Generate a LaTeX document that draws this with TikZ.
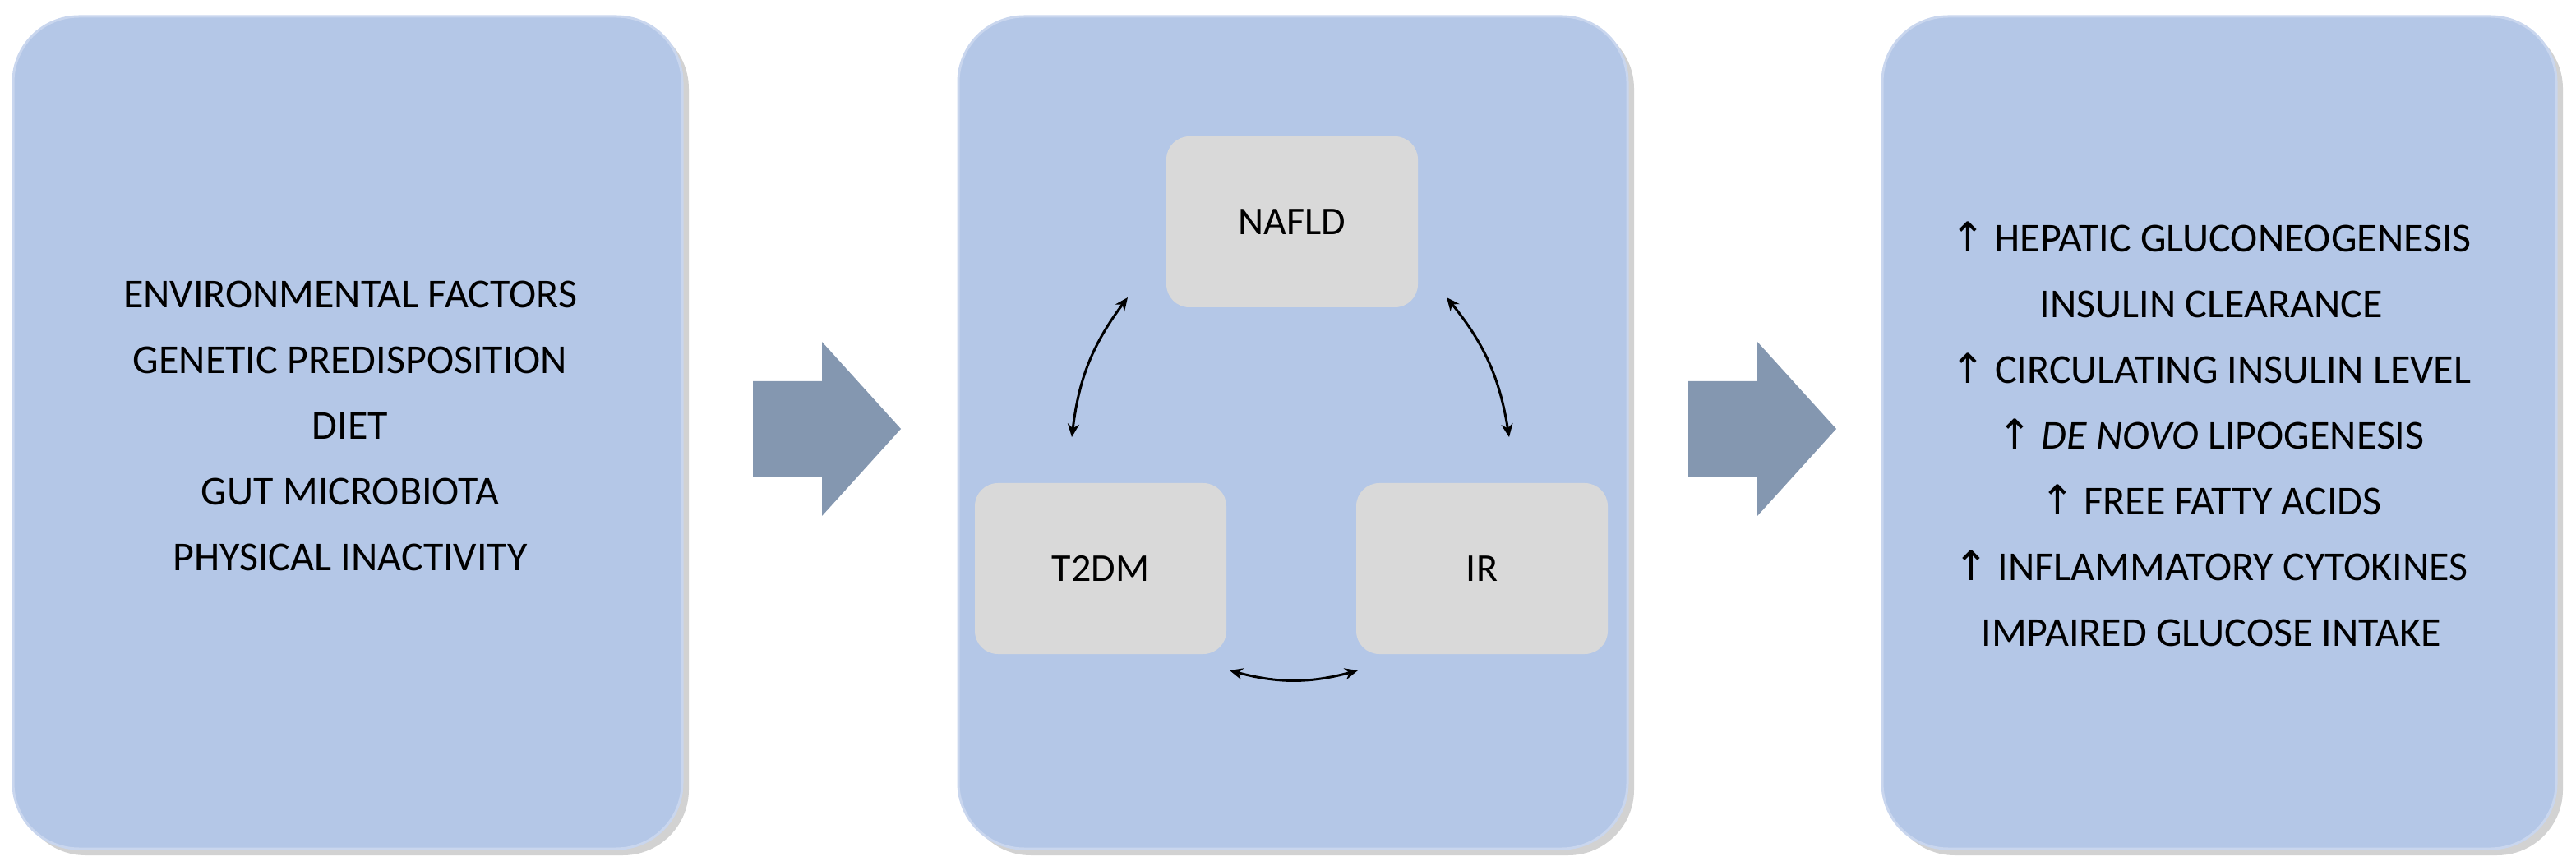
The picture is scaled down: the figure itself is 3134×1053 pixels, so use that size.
\documentclass[tikz,border=0pt]{standalone}
\usepackage{fontspec}
\setmainfont{Carlito}
\newfontfamily\arrfont{DejaVu Sans}
\newcommand{\upar}{{\arrfont ↑}}
\usetikzlibrary{arrows.meta}
\definecolor{boxc}{HTML}{B4C7E7}
\definecolor{boxb}{HTML}{C9D6EE}
\definecolor{inner}{HTML}{D9D9D9}
\definecolor{arr}{HTML}{8497B0}
\begin{document}
\begin{tikzpicture}[x=1pt,y=1pt,
  panel/.style={draw=boxb,line width=3pt,fill=boxc,rounded corners=80pt},
  sbox/.style={fill=inner,rounded corners=28pt,minimum width=306pt,minimum height=208pt,font=\fontsize{48}{56}\selectfont},
  dbl/.style={{Stealth[length=16pt,width=14pt]}-{Stealth[length=16pt,width=14pt]},line width=3pt},
  txt/.style={align=center,font=\fontsize{50}{80}\selectfont}]
\useasboundingbox (0,0) rectangle (3134,1053);
% shadows
\foreach \a/\b in {16/830,1166/1980,2290/3110}{
  \fill[gray!35,rounded corners=80pt] (\a+8,20-8) rectangle (\b+8,1033-8);}
\draw[panel] (16,20) rectangle (830,1033);
\draw[panel] (1166,20) rectangle (1980,1033);
\draw[panel] (2290,20) rectangle (3110,1033);
\node[txt] (lt) at (426,535) {ENVIRONMENTAL FACTORS\\GENETIC PREDISPOSITION\\DIET\\GUT MICROBIOTA\\PHYSICAL INACTIVITY};
\node[txt] (rt) at (2690,525) {\upar{} HEPATIC GLUCONEOGENESIS\\INSULIN CLEARANCE\\\upar{} CIRCULATING INSULIN LEVEL\\\upar{} \textit{DE NOVO} LIPOGENESIS\\\upar{} FREE FATTY ACIDS\\\upar{} INFLAMMATORY CYTOKINES\\IMPAIRED GLUCOSE INTAKE};
\foreach \x in {916,2054}{
  \fill[arr] (\x,589) -- (\x+84,589) -- (\x+84,637) -- (\x+180,531) -- (\x+84,425) -- (\x+84,473) -- (\x,473) -- cycle;}
\node[sbox] (nafld) at (1572,783) {NAFLD};
\node[sbox] (t2dm) at (1339,361) {T2DM};
\node[sbox] (ir) at (1803,361) {IR};
\coordinate (p1) at (1372,691);
\coordinate (p2) at (1304,521);
\coordinate (p3) at (1760,691);
\coordinate (p4) at (1836,521);
\coordinate (p5) at (1496,237);
\coordinate (p6) at (1652,237);
\draw[dbl] (p1) to[bend right=15] (p2);
\draw[dbl] (p3) to[bend left=15] (p4);
\draw[dbl] (p5) to[bend right=15] (p6);
\end{tikzpicture}
\end{document}
